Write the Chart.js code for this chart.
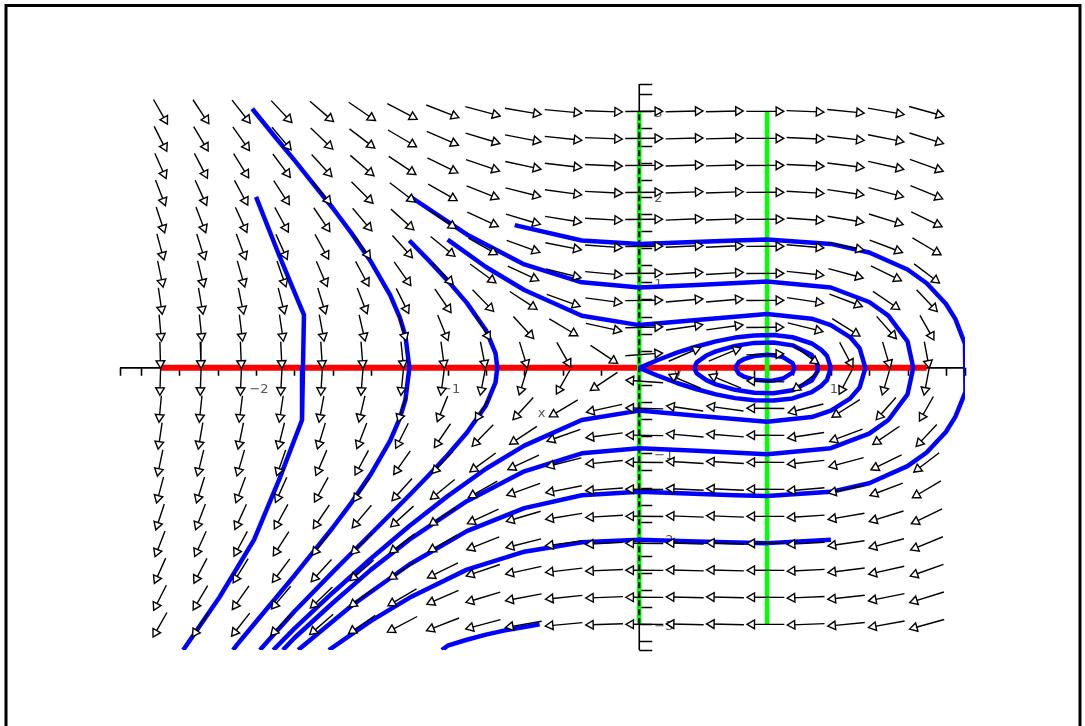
<!DOCTYPE html>
<html>
<head>
<meta charset="utf-8">
<script src="https://cdn.jsdelivr.net/npm/chart.js@4.4.0/dist/chart.umd.min.js"></script>
<style>
    html, body { margin: 0; padding: 0; background: #fff; }
    canvas { display: block; }
</style>
</head>
<body>
<canvas id="phase" width="1085" height="726"></canvas>
<script>
// --- Data ---
// direction field grid (dx/dt = y, dy/dt depends only on the column)
const fieldX = [-2.5, -2.289, -2.079, -1.868, -1.658, -1.447, -1.237, -1.026, -0.816, -0.605,
                -0.395, -0.184, 0.026, 0.237, 0.447, 0.658, 0.868, 1.079, 1.289, 1.5];
const fieldY = [-3, -2.684, -2.368, -2.053, -1.737, -1.421, -1.105, -0.789, -0.474, -0.158,
                0.158, 0.474, 0.789, 1.105, 1.421, 1.737, 2.053, 2.368, 2.684, 3];
const fieldDY = [-11.875, -10.152, -8.562, -7.105, -5.781, -4.590, -3.532, -2.606, -1.814, -1.155,
                 -0.628, -0.235, 0.025, 0.153, 0.147, 0.009, -0.263, -0.667, -1.205, -1.875];

// nullclines
const redSpan = [-2.5, 1.5];        // y = 0
const greenX = [0, 0.667];
const greenSpan = [-3, 3];

// axis ticks
const xTickLabels = [-2, -1, 1];
const yTickLabels = [-3, -2, -1, 1, 2, 3];

// trajectories
const curveA = [[-2.0, 2.0], [-1.88, 1.32], [-1.75, 0.62], [-1.755, 0], [-1.76, -0.61], [-1.88, -1.31],
                [-2.01, -2.01], [-2.19, -2.68], [-2.38, -3.3]];
const curveB = [[-2.02, 3.03], [-1.9, 2.7], [-1.8, 2.43], [-1.7, 2.15], [-1.6, 1.87], [-1.5, 1.57],
                [-1.4, 1.24], [-1.3, 0.85], [-1.25, 0.59], [-1.22, 0.37], [-1.2, 0], [-1.22, -0.37],
                [-1.25, -0.59], [-1.3, -0.85], [-1.4, -1.24], [-1.5, -1.57], [-1.6, -1.87], [-1.7, -2.15],
                [-1.8, -2.43], [-1.9, -2.7], [-2.0, -2.97], [-2.1, -3.24], [-2.12, -3.3]];
const curveC = [[-1.2, 1.49], [-1.1, 1.26], [-1.0, 1.02], [-0.9, 0.76], [-0.8, 0.44], [-0.75, 0.17],
                [-0.741, 0], [-0.75, -0.17], [-0.8, -0.44], [-0.9, -0.76], [-1.0, -1.02], [-1.1, -1.26],
                [-1.2, -1.49], [-1.4, -1.94], [-1.6, -2.39], [-1.8, -2.85], [-1.98, -3.3]];
const curveD = [[-0.65, 1.67], [-0.3, 1.49], [0, 1.45], [0.5, 1.49], [0.667, 1.5], [1.0, 1.45],
                [1.2, 1.35], [1.4, 1.15], [1.5, 0.99], [1.6, 0.75], [1.65, 0.57], [1.7, 0.28], [1.705, 0],
                [1.7, -0.28], [1.65, -0.57], [1.6, -0.75], [1.5, -0.99], [1.4, -1.15], [1.2, -1.35],
                [1.0, -1.45], [0.667, -1.5], [0.5, -1.49], [0, -1.45], [-0.3, -1.49], [-0.6, -1.64],
                [-0.9, -1.91], [-1.2, -2.3], [-1.5, -2.78], [-1.7, -3.15], [-1.78, -3.3]];
const curveE = [[-1.2, 2.01], [-0.9, 1.56], [-0.6, 1.21], [-0.3, 1.0], [0, 0.94], [0.3, 0.97],
                [0.667, 1.01], [1.0, 0.94], [1.2, 0.77], [1.3, 0.61], [1.4, 0.31], [1.43, 0],
                [1.4, -0.31], [1.3, -0.61], [1.2, -0.77], [1.0, -0.94], [0.667, -1.01], [0.3, -0.97],
                [0, -0.94], [-0.3, -1.0], [-0.6, -1.21], [-0.9, -1.56], [-1.2, -2.01], [-1.4, -2.36],
                [-1.6, -2.75], [-1.8, -3.16], [-1.86, -3.3]];
const curveF = [[-1.0, 1.5], [-0.8, 1.18], [-0.6, 0.91], [-0.3, 0.61], [0, 0.5], [0.3, 0.56],
                [0.667, 0.63], [0.9, 0.575], [1.0, 0.5], [1.1, 0.36], [1.15, 0.23], [1.18, 0],
                [1.15, -0.23], [1.1, -0.36], [1.0, -0.5], [0.9, -0.575], [0.667, -0.63], [0.3, -0.56],
                [0, -0.5], [-0.3, -0.61], [-0.6, -0.91], [-0.8, -1.18], [-1.0, -1.5], [-1.2, -1.85],
                [-1.4, -2.23], [-1.6, -2.63], [-1.8, -3.05], [-1.91, -3.3]];
const curveG = [[1.0, -2.01], [0.667, -2.05], [0.3, -2.03], [0, -2.01], [-0.3, -2.04], [-0.6, -2.15],
                [-0.9, -2.36], [-1.2, -2.69], [-1.4, -2.96], [-1.62, -3.3]];
const curveH = [[-0.52, -3.0], [-0.6, -3.03], [-0.7, -3.07], [-0.8, -3.12], [-0.9, -3.18], [-1.0, -3.25],
                [-1.03, -3.3]];
const loopSaddle = [[0, 0], [0.1, 0.095], [0.2, 0.18], [0.3, 0.25], [0.4, 0.31], [0.5, 0.354], [0.6, 0.379],
                    [0.7, 0.383], [0.8, 0.358], [0.9, 0.285], [0.95, 0.21], [0.98, 0.14], [1.0, 0],
                    [0.98, -0.14], [0.95, -0.21], [0.9, -0.285], [0.8, -0.358], [0.7, -0.383], [0.6, -0.379],
                    [0.5, -0.354], [0.4, -0.31], [0.3, -0.25], [0.2, -0.18], [0.1, -0.095], [0, 0]];
const loopMid = [[0.287, 0], [0.3, 0.065], [0.35, 0.144], [0.4, 0.193], [0.5, 0.257], [0.6, 0.292],
                 [0.7, 0.297], [0.8, 0.263], [0.9, 0.149], [0.93, 0.04], [0.931, 0], [0.93, -0.04],
                 [0.9, -0.149], [0.8, -0.263], [0.7, -0.297], [0.6, -0.292], [0.5, -0.257], [0.4, -0.193],
                 [0.35, -0.144], [0.3, -0.065], [0.287, 0]];
const loopSmall = [[0.5, 0], [0.52, 0.069], [0.55, 0.106], [0.6, 0.138], [0.667, 0.152], [0.7, 0.148],
                   [0.75, 0.125], [0.8, 0.055], [0.81, 0], [0.8, -0.055], [0.75, -0.125], [0.7, -0.148],
                   [0.667, -0.152], [0.6, -0.138], [0.55, -0.106], [0.52, -0.069], [0.5, 0]];

const curves = [curveA, curveB, curveC, curveD, curveE, curveF, curveG, curveH, loopSaddle, loopMid, loopSmall];

// --- Build datasets ---
function toPts(arr) {
    return arr.map(p => ({ x: p[0], y: p[1] }));
}

function buildArrows() {
    const shafts = [], heads = [];
    const hx = fieldX[1] - fieldX[0];
    const hy = fieldY[1] - fieldY[0];
    fieldX.forEach((x, i) => {
        fieldY.forEach(y => {
            const u = y / hx, v = fieldDY[i] / hy;
            const n = Math.hypot(u, v) || 1;
            const dx = u / n * hx, dy = v / n * hy;
            shafts.push({ x: x - 0.47 * dx, y: y - 0.47 * dy });
            shafts.push({ x: x + 0.33 * dx, y: y + 0.33 * dy });
            shafts.push({ x: x, y: null });
            heads.push({ x: x + 0.33 * dx, y: y + 0.33 * dy, dx: dx, dy: dy });
        });
    });
    return { shafts, heads };
}

const arrows = buildArrows();

function headRotation(ctx) {
    const r = ctx.raw;
    if (!r || r.dx === undefined) return 0;
    const sx = ctx.chart.scales.x, sy = ctx.chart.scales.y;
    const px = sx.getPixelForValue(r.x + r.dx) - sx.getPixelForValue(r.x);
    const py = sy.getPixelForValue(r.y + r.dy) - sy.getPixelForValue(r.y);
    return Math.atan2(px, -py) * 180 / Math.PI;
}

const datasets = [
    {
        data: arrows.heads, showLine: false, order: 0,
        pointStyle: 'triangle', pointRadius: 5, pointBorderWidth: 1.4,
        pointBorderColor: '#000', pointBackgroundColor: '#fff',
        pointRotation: headRotation
    },
    {
        data: arrows.shafts, showLine: true, order: 1, spanGaps: false,
        borderColor: '#000', borderWidth: 1.4, pointRadius: 0
    }
];

curves.forEach(c => {
    datasets.push({
        data: toPts(c), showLine: true, order: 2,
        borderColor: '#0000ff', borderWidth: 4.5, pointRadius: 0,
        borderJoinStyle: 'round', borderCapStyle: 'butt'
    });
});

// y axis shown dashed over the green nullcline
datasets.push({
    data: [{ x: greenX[0], y: greenSpan[0] }, { x: greenX[0], y: greenSpan[1] }],
    showLine: true, order: 3, borderColor: '#000', borderWidth: 2, borderDash: [6, 3], pointRadius: 0
});
greenX.forEach(x => {
    datasets.push({
        data: [{ x: x, y: greenSpan[0] }, { x: x, y: greenSpan[1] }],
        showLine: true, order: 4, borderColor: '#00ff00', borderWidth: 4.5, pointRadius: 0
    });
});
datasets.push({
    data: [{ x: redSpan[0], y: 0 }, { x: redSpan[1], y: 0 }],
    showLine: true, order: 5, borderColor: '#ff0000', borderWidth: 6, pointRadius: 0
});

// --- Axes a la Maple ---
const mapleAxes = {
    id: 'mapleAxes',
    beforeDraw(chart) {
        const c = chart.ctx;
        c.save();
        c.fillStyle = '#fff';
        c.fillRect(0, 0, chart.width, chart.height);
        c.strokeStyle = '#000';
        c.lineWidth = 3;
        c.strokeRect(6, 5.5, 1074, 760);
        c.restore();
    },
    beforeDatasetsDraw(chart) {
        const c = chart.ctx;
        const sx = chart.scales.x, sy = chart.scales.y;
        const x0 = sx.getPixelForValue(0), y0 = sy.getPixelForValue(0);
        c.save();
        c.strokeStyle = '#000';
        c.lineWidth = 1.6;
        c.beginPath();
        c.moveTo(sx.getPixelForValue(sx.min), y0);
        c.lineTo(sx.getPixelForValue(sx.max), y0);
        c.moveTo(x0, sy.getPixelForValue(sy.min));
        c.lineTo(x0, sy.getPixelForValue(sy.max));
        // ticks every 0.2
        const xt = [sx.min, sx.max];
        for (let v = -2.6; v <= 1.61; v += 0.2) xt.push(v);
        xt.forEach(v => {
            const p = Math.round(sx.getPixelForValue(v)) + 0.5;
            c.moveTo(p, y0);
            c.lineTo(p, y0 + 8);
        });
        const yt = [sy.min, sy.max];
        for (let v = -3.2; v <= 3.21; v += 0.2) yt.push(v);
        yt.forEach(v => {
            const p = Math.round(sy.getPixelForValue(v)) + 0.5;
            c.moveTo(x0, p);
            c.lineTo(x0 + 13, p);
        });
        c.stroke();

        c.fillStyle = '#555';
        c.font = '13px "DejaVu Sans"';
        c.textBaseline = 'middle';
        c.textAlign = 'center';
        xTickLabels.forEach(v => {
            c.fillText(v < 0 ? '\u2212' + Math.abs(v) : String(v), sx.getPixelForValue(v) + 3, y0 + 22);
        });
        c.textAlign = 'left';
        yTickLabels.forEach(v => {
            c.fillText(v < 0 ? '\u2212' + Math.abs(v) : String(v), x0 + 15, sy.getPixelForValue(v) + 2);
        });
        c.textAlign = 'center';
        c.fillText('x', sx.getPixelForValue(-0.51), sy.getPixelForValue(-0.53));
        c.fillText('y', sx.getPixelForValue(0.2), sy.getPixelForValue(-0.07));
        c.restore();
    }
};

// --- Chart ---
new Chart(document.getElementById('phase'), {
    type: 'scatter',
    data: { datasets: datasets },
    options: {
        responsive: false,
        animation: false,
        devicePixelRatio: 1,
        events: [],
        layout: { padding: { left: 120, right: 120, top: 84, bottom: 76 } },
        scales: {
            x: { type: 'linear', min: -2.71, max: 1.70, display: false },
            y: { type: 'linear', min: -3.30, max: 3.32, display: false }
        },
        plugins: {
            legend: { display: false },
            tooltip: { enabled: false }
        }
    },
    plugins: [mapleAxes]
});
</script>
</body>
</html>
